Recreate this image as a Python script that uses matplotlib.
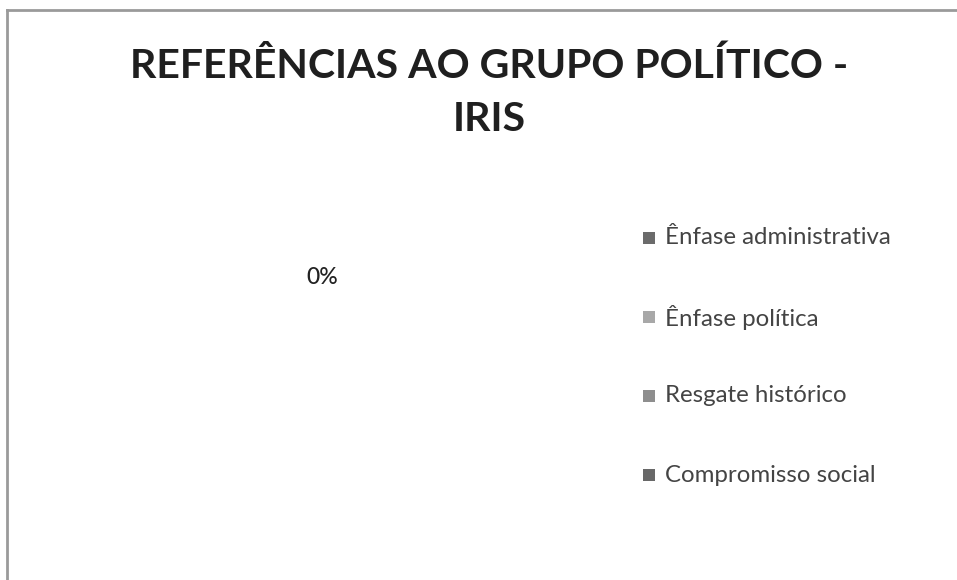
import matplotlib
matplotlib.use('Agg')
import matplotlib.pyplot as plt
from matplotlib.patches import Rectangle
from matplotlib.lines import Line2D

# dados do gráfico
categorias = ['Ênfase administrativa', 'Ênfase política', 'Resgate histórico', 'Compromisso social']
valores = [0, 0, 0, 0]
cores = ['#6b6b6b', '#a8a8a8', '#8e8e8e', '#686868']
rotulo_dados = ['0%']
titulo = 'REFERÊNCIAS AO GRUPO POLÍTICO -\nIRIS'

plt.rcParams['font.family'] = ['Lato', 'DejaVu Sans']

fig = plt.figure(figsize=(9.57, 5.8), dpi=100)
W, H = 957, 580

# moldura cinza (só topo e esquerda aparecem)
fig.add_artist(Line2D([7 / W, 1], [1 - 10 / H, 1 - 10 / H], color='#9a9a9a', lw=2))
fig.add_artist(Line2D([7 / W, 7 / W], [0, 1 - 10 / H], color='#9a9a9a', lw=2))

fig.text(489 / W, 1 - 93 / H, titulo, ha='center', va='center', fontsize=29.5,
         fontweight='bold', color='#1f1f1f', linespacing=1.52)

ax = fig.add_axes([0.08, 0.05, 0.5, 0.65])
ax.set_aspect('equal')
ax.set_xlim(-1, 1)
ax.set_ylim(-1, 1)
ax.axis('off')
if sum(valores) > 0:
    ax.pie(valores, colors=cores, autopct='%1.0f%%')
else:
    # soma zero: o Excel só mostra o rótulo de dados
    fig.text(322 / W, 1 - 278 / H, rotulo_dados[0], ha='center', va='center',
             fontsize=16.5, fontweight='medium', color='#222222')

# legenda
for i, (cat, cor) in enumerate(zip(categorias, cores)):
    y = 1 - (238 + 79 * i) / H
    fig.add_artist(Rectangle((643 / W, y - 6 / H), 12 / W, 12 / H, facecolor=cor,
                             edgecolor='none', transform=fig.transFigure))
    fig.text(665 / W, y, cat, ha='left', va='center', fontsize=17.3, color='#444444')

fig.savefig('out.png', dpi=100)
